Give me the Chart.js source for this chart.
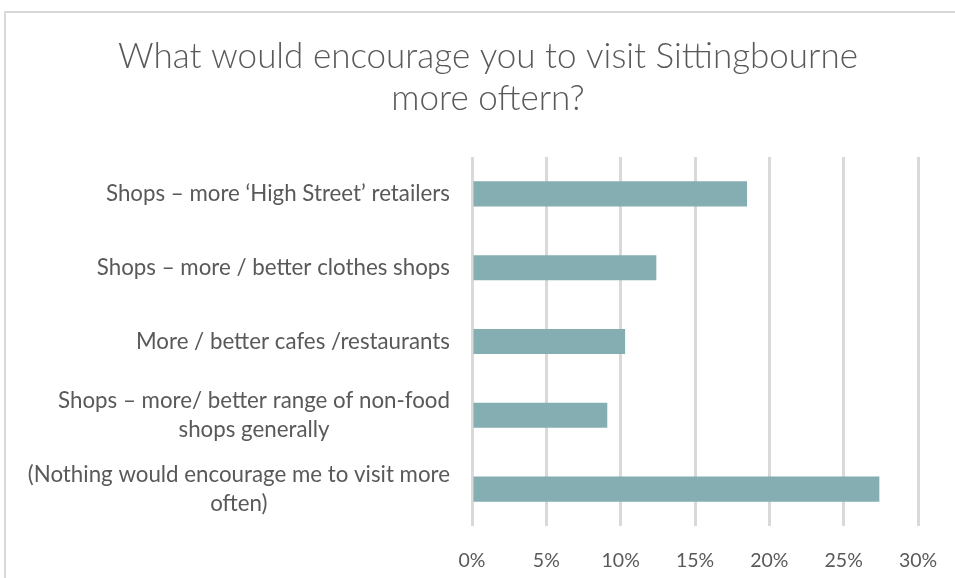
<!DOCTYPE html>
<html>
<head>
<meta charset="utf-8">
<script src="https://cdn.jsdelivr.net/npm/chart.js@4.4.1/dist/chart.umd.min.js"></script>
<style>
  html, body { margin: 0; padding: 0; background: #ffffff; }
  #wrap { position: relative; width: 955px; height: 578px; }
</style>
</head>
<body>
<div id="wrap"><canvas id="chart" width="955" height="578"></canvas></div>
<script>
// Survey answers and their share of respondents (%)
const categories = [
  ['Shops \u2013 more \u2018High Street\u2019 retailers'],
  ['Shops \u2013 more / better clothes shops'],
  ['More / better cafes /restaurants'],
  ['Shops \u2013 more/ better range of non-food', 'shops generally'],
  ['(Nothing would encourage me to visit more', 'often)']
];
const shares = [18.5, 12.4, 10.3, 9.1, 27.4];
const tickValues = [0, 5, 10, 15, 20, 25, 30];

const FONT = 'Lato, "Open Sans", sans-serif';
const TEXT = '#595959';
const GRID = '#d9d9d9';

// Category labels: each block right-aligned to the axis, its lines centred within the block
const categoryLabels = {
  id: 'categoryLabels',
  afterDraw(chart) {
    const { ctx } = chart;
    const y = chart.scales.y;
    const right = chart.chartArea.left - 22;
    const lineH = 29;
    ctx.save();
    ctx.font = '22.3px ' + FONT;
    ctx.fillStyle = TEXT;
    ctx.textAlign = 'center';
    ctx.textBaseline = 'middle';
    chart.data.labels.forEach((lines, i) => {
      const cy = y.getPixelForTick(i);
      const w = Math.max(...lines.map(l => ctx.measureText(l).width));
      const cx = right - w / 2;
      const top = cy - (lines.length - 1) * lineH / 2;
      lines.forEach((l, k) => ctx.fillText(l, cx, top + k * lineH));
    });
    ctx.restore();
  }
};

// Light frame along the top and left of the chart
const frame = {
  id: 'frame',
  beforeDraw(chart) {
    const { ctx } = chart;
    ctx.save();
    ctx.strokeStyle = GRID;
    ctx.lineWidth = 2;
    ctx.beginPath();
    ctx.moveTo(5, 600);
    ctx.lineTo(5, 12);
    ctx.lineTo(960, 12);
    ctx.stroke();
    ctx.restore();
  }
};

new Chart(document.getElementById('chart'), {
  type: 'bar',
  data: {
    labels: categories,
    datasets: [{
      data: shares,
      backgroundColor: '#85aeb3',
      borderWidth: 0,
      categoryPercentage: 1,
      barPercentage: 0.34
    }]
  },
  options: {
    indexAxis: 'y',
    responsive: false,
    animation: false,
    layout: { padding: { left: 58, right: 37, top: 0, bottom: 0 } },
    plugins: {
      legend: { display: false },
      tooltip: { enabled: false },
      title: {
        display: true,
        text: ['What would encourage you to visit Sittingbourne', 'more oftern?'],
        color: TEXT,
        font: { family: FONT, size: 35, weight: 300, lineHeight: 1.2 },
        padding: { top: 36, bottom: 37 }
      }
    },
    scales: {
      x: {
        min: 0,
        max: 30,
        afterBuildTicks(scale) { scale.ticks = tickValues.map(v => ({ value: v })); },
        afterFit(scale) {
          scale.height = 52;
          scale.paddingLeft = 0;
          scale.paddingRight = 0;
        },
        grid: { color: GRID, lineWidth: 3, drawTicks: false },
        border: { display: false },
        ticks: {
          color: TEXT,
          padding: 23,
          font: { family: FONT, size: 19.5 },
          callback: v => v + '%'
        }
      },
      y: {
        afterFit(scale) { scale.width = 414; },
        grid: { display: false },
        border: { display: false },
        ticks: { display: false }
      }
    }
  },
  plugins: [frame, categoryLabels]
});
</script>
</body>
</html>
